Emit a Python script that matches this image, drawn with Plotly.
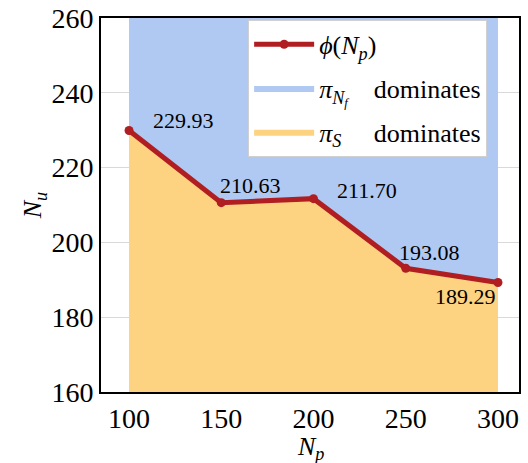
import plotly.graph_objects as go

Np = [100, 150, 200, 250, 300]
Nu = [229.93, 210.63, 211.70, 193.08, 189.29]
labels = ["229.93", "210.63", "211.70", "193.08", "189.29"]
y_top = 260
y_bottom = 160

FONT = "Times New Roman"
fig = go.Figure()

fig.add_trace(go.Scatter(
    x=Np, y=Nu, mode="lines", line=dict(width=0, color="rgba(0,0,0,0)"),
    fill="tozeroy", fillcolor="#fdd281", legendgroup="c",
    name="<i>π</i><sub><i>S</i></sub>&nbsp;&nbsp;&nbsp;&nbsp;&nbsp;dominates", legendrank=3,
))
fig.add_trace(go.Scatter(
    x=Np, y=[y_top] * len(Np), mode="lines", line=dict(width=0, color="rgba(0,0,0,0)"),
    fill="tonexty", fillcolor="#b0c9f2", legendgroup="b",
    name="<i>π</i><sub><i>N<sub>f</sub></i></sub>&nbsp;&nbsp;&nbsp;&nbsp;dominates", legendrank=2,
))
fig.add_trace(go.Scatter(
    x=Np, y=Nu, mode="lines+markers",
    line=dict(width=5, color="#b01e22"), legendgroup="a",
    marker=dict(size=9, color="#b01e22"),
    name="<i>ϕ</i>(<i>N</i><sub><i>p</i></sub>)", legendrank=1,
))

shifts = [(54, 10), (29, 17), (53, 8), (24, 16), (-32, -14)]
for xv, yv, lab, (dx, dy) in zip(Np, Nu, labels, shifts):
    fig.add_annotation(x=xv, y=yv, text=lab, showarrow=False,
                       xshift=dx, yshift=dy,
                       font=dict(family=FONT, size=22, color="black"))

# x-axis title placed just below the tick labels
fig.add_annotation(x=0.5, y=0, xref="paper", yref="paper", xanchor="center",
                   yanchor="top", yshift=-38, showarrow=False,
                   text="<i>N<sub>p</sub></i>",
                   font=dict(family=FONT, size=26, color="black"))

fig.update_layout(
    width=528, height=463,
    margin=dict(l=101, r=9, t=18, b=71),
    plot_bgcolor="white", paper_bgcolor="white",
    font=dict(family=FONT, size=28, color="black"),
    legend=dict(x=0.352, y=0.995, xanchor="left", yanchor="top",
                bgcolor="white", bordercolor="#d0d0d0", borderwidth=1,
                font=dict(family=FONT, size=26, color="black"), itemwidth=60,
                traceorder="grouped", tracegroupgap=7),
    showlegend=True,
)
fig.update_xaxes(range=[84.8, 311.4], tickvals=Np, showgrid=False,
                 showline=True, mirror=True, linecolor="black", linewidth=2,
                 ticks="", zeroline=False, automargin=False,
                 tickfont=dict(family=FONT, size=28))
fig.update_yaxes(range=[y_bottom, y_top], dtick=20, showgrid=True, gridcolor="#d9d9d9",
                 showline=True, mirror=True, linecolor="black", linewidth=2,
                 ticks="", zeroline=False, automargin=False,
                 tickfont=dict(family=FONT, size=28),
                 title=dict(text="<i>N<sub>u</sub></i>", standoff=2,
                            font=dict(family=FONT, size=26)))

fig.write_html("out.html")
